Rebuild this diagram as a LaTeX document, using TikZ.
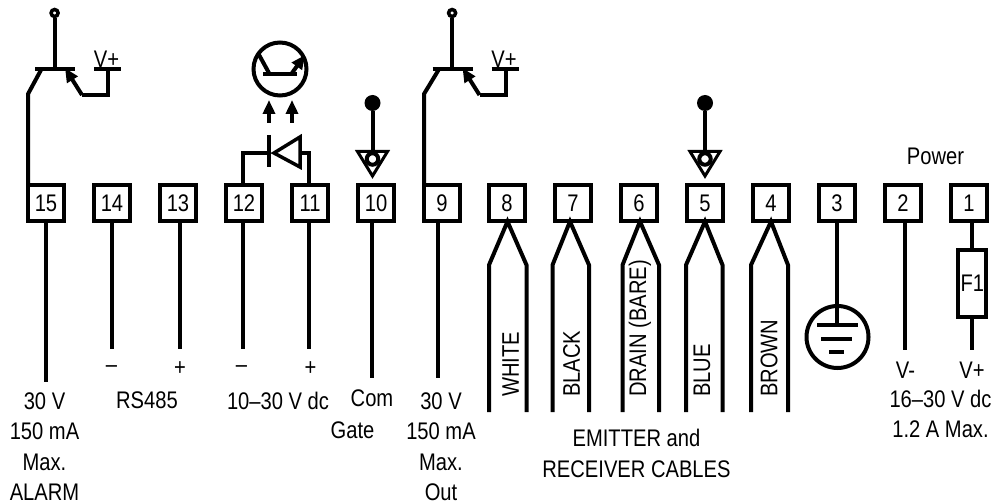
\documentclass[tikz,border=0pt]{standalone}
\usepackage{fontspec}
\setmainfont[FakeStretch=0.84]{Liberation Sans}
\usetikzlibrary{arrows.meta}
\tikzset{
  wire/.style={line width=4bp,line cap=butt,line join=miter},
  terminal/.style={draw,line width=4bp,minimum size=36bp,inner sep=0pt,outer sep=0pt,fill=white,font=\fontsize{24bp}{24bp}\selectfont},
  label_text/.style={inner sep=0pt,align=center,font=\fontsize{24bp}{30.5bp}\selectfont},
  sign_text/.style={inner sep=0pt,font=\fontsize{24bp}{24bp}\selectfont},
  cable_text/.style={inner sep=0pt,rotate=90,anchor=west,font=\fontsize{24bp}{24bp}\selectfont},
  bigtip/.style={-{Triangle[length=14bp,width=12bp]}},
}
\begin{document}
\begin{tikzpicture}[>=latex,line join=miter,x=1bp,y=-1bp]
\useasboundingbox (0,0) rectangle (995,504);
%% terminals
\foreach \n/\xpos in {15/46,14/112,13/178,12/244,11/310,10/376,9/442,8/507,7/573,6/639,5/705,4/771,3/837,2/903,1/969}{
  \node (node_\n) at (\xpos,203) [terminal] {\n};
}
%% straight leads
\foreach \n/\xpos/\yend in {15/46/382,14/112/349,13/180/349,12/243/349,11/309/349,10/372/378,9/438/378,2/904.5/350}{
  \coordinate (end_\n) at (\xpos,\yend);
  \draw [wire] (end_\n |- node_\n.south) -- (end_\n);
}
%% transistor outputs
\foreach \pre/\shift/\n in {a/0/15,b/397.5/9}{
\begin{scope}[xshift=\shift bp]
  \node (tip_\pre) at (54.6,13) [draw,circle,line width=3.5bp,minimum size=7bp,inner sep=0pt] {};
  \coordinate (bar_l_\pre) at (35,69.5);
  \coordinate (bar_r_\pre) at (75,69.5);
  \coordinate (bar_m_\pre) at (54.6,69.5);
  \coordinate (knee_\pre) at (26.5,94);
  \coordinate (base_\pre) at (41,70);
  \coordinate (emit_\pre) at (82,95);
  \coordinate (head_\pre) at (65,68);
  \coordinate (rail_\pre) at (108,69.5);
  \node (vplus_\pre) at (106.5,59) [label_text] {V+};
  \draw [wire] (bar_l_\pre) -- (bar_r_\pre);
  \draw [wire] (bar_m_\pre) -- (tip_\pre.south);
  \draw [wire] (node_\n.north west) -- (node_\n.north west |- knee_\pre) -- (base_\pre);
  \draw [wire,bigtip] (emit_\pre) -- (head_\pre);
  \draw [wire] (emit_\pre) -- (emit_\pre -| rail_\pre) -- (rail_\pre);
  \draw [wire] (94,69.5) -- (121,69.5);
\end{scope}
}
%% photo transistor and diode
\node (photo) at (280,69) [draw,circle,line width=4bp,minimum size=53bp,inner sep=0pt] {};
\draw [wire] (263,74) -- (297,74);
\draw [wire] (258,53) -- (269,73);
\draw [wire,bigtip] (292,73) -- (305,55);
\coordinate (ray_l) at (269,123);
\coordinate (ray_r) at (292,123);
\draw [wire,bigtip] (ray_l) -- (269,100);
\draw [wire,bigtip] (ray_r) -- (292,100);
\coordinate (cathode) at (269,153);
\coordinate (anode) at (300,153);
\draw [wire] (node_12.north -| 243,0) -- (243,153) -- (cathode);
\draw [wire] (node_11.north -| 309,0) -- (309,153) -- (anode);
\draw [wire] (269,135) -- (269,167);
\draw [wire,line width=3.5bp,fill=white] (274,153) -- (300,137) -- (300,167) -- cycle;
%% gate symbols
\foreach \pre/\xpos in {g/372.5,e/705}{
  \node (dot_\pre) at (\xpos,103) [circle,fill=black,minimum size=16bp,inner sep=0pt] {};
  \node (ring_\pre) at (\xpos,159) [circle,minimum size=11.5bp,inner sep=0pt,outer sep=2bp] {};
  \draw [wire,line width=3bp] (\xpos-15,151.5) -- (\xpos+15,151.5) -- (\xpos,176) -- cycle;
  \draw [wire] (dot_\pre) -- (ring_\pre.north);
  \node at (ring_\pre) [draw,circle,line width=4bp,fill=white,minimum size=11.5bp,inner sep=0pt] {};
}
%% cables
\foreach \n/\apex/\lft/\rgt in {8/507.5/489/526.5,7/570/552.5/589,6/640/622.5/659,5/705/686/722.5,4/771/751/788}{
  \coordinate (apex_\n) at (\apex,221.5);
  \draw [wire] (\lft,412) -- (\lft,265) -- (apex_\n) -- (\rgt,265) -- (\rgt,412);
}
\node at (510.5,397) [cable_text] {WHITE};
\node at (571.5,397) [cable_text] {BLACK};
\node at (640,397) [cable_text] {DRAIN (BARE)};
\node at (702,397) [cable_text] {BLUE};
\node at (769,397) [cable_text] {BROWN};
%% ground
\coordinate (gnd_top) at (837,325);
\node (gnd) at (837.5,337) [draw,circle,line width=4bp,minimum size=62bp,inner sep=0pt] {};
\draw [wire] (node_3.south) -- (gnd_top);
\draw [wire] (817,325) -- (858,325);
\draw [wire] (821,339) -- (852,339);
\draw [wire] (829,352) -- (844,352);
%% fuse
\node (fuse) at (972.3,283.5) [draw,line width=4bp,minimum width=28bp,minimum height=67bp,inner sep=0pt] {\fontsize{24bp}{24bp}\selectfont F1};
\coordinate (end_1) at (972.3,350);
\draw [wire] (fuse.north |- node_1.south) -- (fuse.north);
\draw [wire] (fuse.south) -- (end_1);
%% texts
\node (power) at (935.5,156.5) [label_text] {Power};
\node (v_minus) at (905.5,370) [label_text] {V-};
\node (v_plus) at (972,370) [label_text] {V+};
\node (supply) at (940.5,414) [label_text] {16–30 V dc\\1.2 A Max.};
\node (minus_a) at (111.5,369) [sign_text] {–};
\node (plus_a) at (180,369) [sign_text] {+};
\node (minus_b) at (241.5,369) [sign_text] {–};
\node (plus_b) at (310.5,369) [sign_text] {+};
\node (rs485) at (147,400.5) [label_text] {RS485};
\node (logic) at (278,400.5) [label_text] {10–30 V dc};
\node (com) at (372,398) [label_text] {Com};
\node (gate) at (352.5,430.5) [label_text] {Gate};
\node (alarm) at (44.5,446.5) [label_text] {30 V\\150 mA\\Max.\\ALARM};
\node (out) at (441,446.5) [label_text] {30 V\\150 mA\\Max.\\Out};
\node (cables) at (636.5,453.5) [label_text] {EMITTER and\\RECEIVER CABLES};
%
\end{tikzpicture}
\end{document}
